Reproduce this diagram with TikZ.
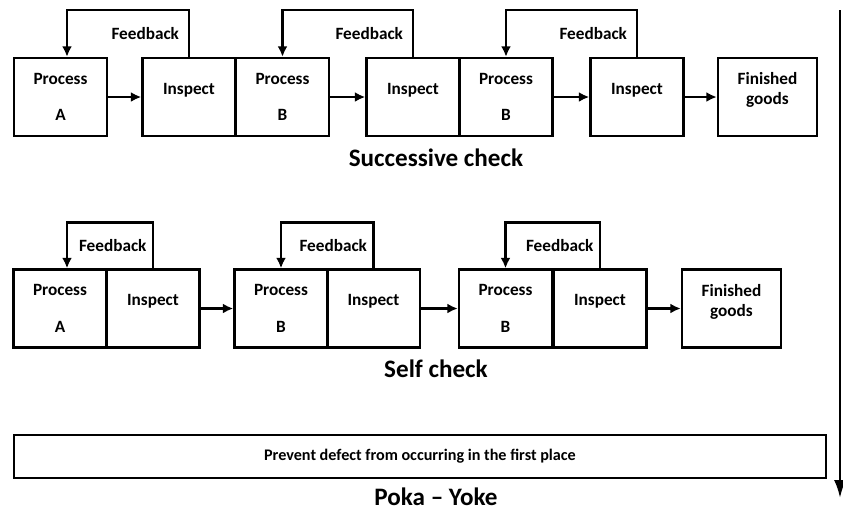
\documentclass[tikz,border=0pt]{standalone}
\usepackage{fontspec}
\setmainfont{Carlito}
\usepackage{tikz}
\usetikzlibrary{arrows.meta}
\tikzstyle{box}=[draw, line width=1.4pt, minimum width=1.86cm, minimum height=1.56cm, inner sep=1pt, align=center, font=\bfseries\fontsize{9.8}{11.3}\selectfont]
\tikzstyle{raised}=[text depth=0.33cm]
\tikzstyle{edge}=[line width=1.4pt]
\tikzstyle{dedge}=[edge,-{Latex[length=0.21cm,width=0.2cm]}]
\tikzstyle{labelsty}=[font=\bfseries\fontsize{9.8}{11}\selectfont, inner xsep=5pt]
\tikzstyle{titlesty}=[font=\bfseries\fontsize{14.3}{16}\selectfont]

\begin{document}
\begin{tikzpicture}[x=0.02cm,y=-0.02cm]
	\useasboundingbox (0,0) rectangle (843,511);
	
	\node[box] (pA1) at (60.5,97) {Process\\[0.33cm]A};
	\node[box,raised] (i1) at (189,97) {Inspect};
	\node[box] (pB1) at (282.5,97) {Process\\[0.33cm]B};
	\node[box,raised] (i2) at (413,97) {Inspect};
	\node[box] (pC1) at (506,97) {Process\\[0.33cm]B};
	\node[box,raised] (i3) at (637,97) {Inspect};
	\node[box,raised,minimum width=1.98cm] (fg1) at (767.5,97) {Finished\\goods};
	\node[titlesty] (t1) at (436,158) {Successive check};
	
	\draw[dedge] (pA1)edge(i1);
	\draw[dedge] (pB1)edge(i2);
	\draw[dedge] (pC1)edge(i3);
	\draw[dedge] (i3)edge(fg1);
	\draw[dedge] (i1.north) -- node[left,labelsty]{Feedback} ++(0,-47) -| ([xshift=0.13cm]pA1.north);
	\draw[dedge] (i2.north) -- node[left,labelsty]{Feedback} ++(0,-47) -| (pB1.north);
	\draw[dedge] (i3.north) -- node[left,labelsty]{Feedback} ++(0,-47) -| (pC1.north);
	
	\node[box] (pA2) at (60,308.5) {Process\\[0.33cm]A};
	\node[box,raised] (i4) at (153,308.5) {Inspect};
	\node[box] (pB2) at (281,308.5) {Process\\[0.33cm]B};
	\node[box,raised] (i5) at (373.5,308.5) {Inspect};
	\node[box] (pC2) at (505.5,308.5) {Process\\[0.33cm]B};
	\node[box,raised] (i6) at (600,308.5) {Inspect};
	\node[box,raised,minimum width=1.98cm] (fg2) at (731.5,308.5) {Finished\\goods};
	\node[titlesty] (t2) at (436,369) {Self check};
	
	\draw[dedge] (i4)edge(pB2);
	\draw[dedge] (i5)edge(pC2);
	\draw[dedge] (i6)edge(fg2);
	\draw[dedge] (i4.north) -- node[left,labelsty,inner xsep=3pt]{Feedback} ++(0,-46) -| ([xshift=0.14cm]pA2.north);
	\draw[dedge] (i5.north) -- node[left,labelsty,inner xsep=3pt]{Feedback} ++(0,-46) -| (pB2.north);
	\draw[dedge] (i6.north) -- node[left,labelsty,inner xsep=3pt]{Feedback} ++(0,-46) -| (pC2.north);
	
	\node[draw, line width=1.4pt, minimum width=16.24cm, minimum height=0.86cm, font=\bfseries\fontsize{9.2}{11}\selectfont] (pv) at (420,456.5) {Prevent defect from occurring in the first place};
	\node[titlesty] (t3) at (436,497) {Poka -- Yoke};
	
	\coordinate (top) at (840,10);
	\coordinate (bot) at (840,498);
	\draw[edge,-{Latex[length=0.36cm,width=0.24cm]}] (top) -- (bot);
\end{tikzpicture}
\end{document}
